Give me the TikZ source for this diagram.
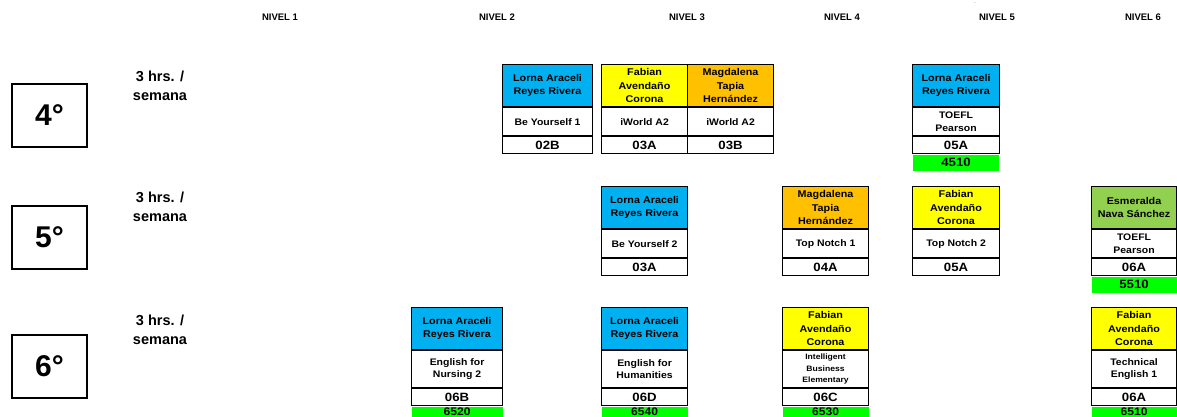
\documentclass[tikz,border=0pt]{standalone}
\usepackage{fontspec}
\setmainfont{Liberation Sans}
\newfontfamily\cellfont[FakeStretch=1.1]{Liberation Sans}

\definecolor{tblue}{HTML}{00B0F0}
\definecolor{tyellow}{HTML}{FFFF00}
\definecolor{torange}{HTML}{FFC000}
\definecolor{tlime}{HTML}{92D050}
\definecolor{tgreen}{HTML}{00FF00}

\tikzset{
  cellbase/.style={draw=black, line width=1.1pt, inner sep=0pt, align=center,
    font=\cellfont\bfseries},
  teacher/.style={cellbase, anchor=north west, minimum height=42pt,
    font=\cellfont\bfseries\fontsize{9.8}{13.5}\selectfont},
  coursecell/.style={cellbase, anchor=north, fill=white,
    font=\cellfont\bfseries\fontsize{9.5}{12.5}\selectfont},
  groupcell/.style={cellbase, anchor=north, minimum height=17pt, fill=white,
    font=\cellfont\bfseries\fontsize{12}{12}\selectfont},
  codecell/.style={inner sep=0pt, anchor=north, minimum height=16.5pt, fill=tgreen,
    font=\cellfont\bfseries\fontsize{12}{12}\selectfont},
  level/.style={font=\bfseries\fontsize{9.5}{11}\selectfont},
  grade/.style={draw=black, line width=1.5pt, minimum width=75pt, minimum height=63pt,
    inner sep=0pt, font=\bfseries\fontsize{30}{32}\selectfont},
  hours/.style={align=center, font=\bfseries\fontsize{14.5}{19}\selectfont},
}

% #1 name, #2 left x, #3 top y, #4 width, #5 colour, #6 teacher,
% #7 course, #8 course cell height, #9 group
\newcommand\classblock[9]{%
  \node[teacher, fill=#5, minimum width=#4pt] (#1-t) at (#2,#3) {#6};
  \node[coursecell, minimum width=#4pt, minimum height=#8pt] (#1-c) at (#1-t.south) {#7};
  \node[groupcell, minimum width=#4pt] (#1-g) at (#1-c.south) {#9};
}
% #1 block name, #2 width, #3 code
\newcommand\codebox[3]{%
  \node[codecell, minimum width=#2pt] (#1-n) at (#1-g.south) {#3};
}

\begin{document}
\begin{tikzpicture}[x=1pt,y=-1pt]
\useasboundingbox (0,0) rectangle (1177,417);

% level headings
\node[level] (n1) at (280,17) {NIVEL 1};
\node[level] (n2) at (497,17) {NIVEL 2};
\node[level] (n3) at (687,17) {NIVEL 3};
\node[level] (n4) at (842,17) {NIVEL 4};
\node[level] (n5) at (997,17) {NIVEL 5};
\node[level] (n6) at (1143,17) {NIVEL 6};
\node[font=\fontsize{5}{5}\selectfont, inner sep=0pt] (dot) at (975,3) {.};

% grade labels
\node[grade] (g4) at (49.5,115.5) {4°};
\node[grade] (g5) at (49.5,237.5) {5°};
\node[grade] (g6) at (49.5,366.5) {6°};
\node[hours] (h4) at (160,86) {3 hrs. /\\semana};
\node[hours] (h5) at (160,207) {3 hrs. /\\semana};
\node[hours] (h6) at (160,329.5) {3 hrs. /\\semana};

% 4th grade
\classblock{a2}{502}{64}{90}{tblue}{Lorna Araceli\\Reyes Rivera}{Be Yourself 1}{28}{02B}
\classblock{a3}{601}{64}{86}{tyellow}{Fabian\\Avendaño\\Corona}{iWorld A2}{28}{03A}
\classblock{a3b}{687}{64}{86}{torange}{Magdalena\\Tapia\\Hernández}{iWorld A2}{28}{03B}
\classblock{a5}{912}{64}{87}{tblue}{Lorna Araceli\\Reyes Rivera}{TOEFL\\Pearson}{28}{05A}
\codebox{a5}{86}{4510}

% 5th grade
\classblock{b3}{601}{186}{86}{tblue}{Lorna Araceli\\Reyes Rivera}{Be Yourself 2}{28}{03A}
\classblock{b4}{782}{186}{86}{torange}{Magdalena\\Tapia\\Hernández}{Top Notch 1}{28}{04A}
\classblock{b5}{912}{186}{87}{tyellow}{Fabian\\Avendaño\\Corona}{Top Notch 2}{28}{05A}
\classblock{b6}{1091}{186}{85}{tlime}{Esmeralda\\Nava Sánchez}{TOEFL\\Pearson}{28}{06A}
\codebox{b6}{85}{5510}

% 6th grade: the code strip reaches the bottom edge, its text sits high
\begin{scope}[codecell/.append style={minimum height=14pt, text depth=3pt,
    font=\cellfont\bfseries\fontsize{11}{11}\selectfont}]
\classblock{c2}{411}{307}{91}{tblue}{Lorna Araceli\\Reyes Rivera}{English for\\Nursing 2}{37}{06B}
\codebox{c2}{91}{6520}
\classblock{c3}{601}{307}{86}{tblue}{Lorna Araceli\\Reyes Rivera}{English for\\Humanities}{37}{06D}
\codebox{c3}{86}{6540}
\begin{scope}[coursecell/.append style={font=\cellfont\bfseries\fontsize{7.8}{11.5}\selectfont}]
\classblock{c4}{782}{307}{86}{tyellow}{Fabian\\Avendaño\\Corona}{Intelligent\\Business\\Elementary}{37}{06C}
\end{scope}
\codebox{c4}{86}{6530}
\classblock{c6}{1091}{307}{85}{tyellow}{Fabian\\Avendaño\\Corona}{Technical\\English 1}{37}{06A}
\codebox{c6}{85}{6510}
\end{scope}
\end{tikzpicture}
\end{document}
